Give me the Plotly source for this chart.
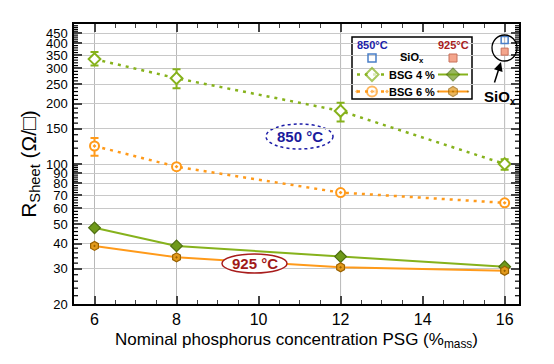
import numpy as np
import plotly.graph_objects as go

# ---------------- data ----------------
psg = [6, 8, 12, 16]

bsg4_850 = [334, 268, 184, 100]
bsg4_850_up = [28, 29, 18, 5.5]
bsg4_850_dn = [24, 29, 21, 6.3]

bsg6_850 = [123, 97, 72, 64]
bsg6_850_up = [12, 3, 2, 1.5]
bsg6_850_dn = [13, 3, 2, 1.5]

bsg4_925 = [48, 39, 34.5, 30.7]
bsg6_925 = [39, 34.2, 30.5, 29.3]

siox_x = [16]
siox_850 = [416]
siox_925 = [364]

y_ticks = [20, 30, 40, 50, 60, 70, 80, 90, 100, 150, 200, 250, 300, 350, 400, 450]
y_minor = [v for v in range(22, 100, 2) if v not in y_ticks] + \
          [v for v in range(110, 500, 10) if v not in y_ticks]

# ---------------- style ----------------
GREEN = "#86b21c"
GREEN_F = "#6f9a1a"
GREEN_D = "#4d6e10"
ORANGE = "#ff9a1a"
ORANGE_F = "#e39a1c"
ORANGE_D = "#9a6200"
BLUE = "#1c1ca8"
RED = "#a81c1c"
FONT = "Liberation Sans, Arial, sans-serif"
YR = [np.log10(20), np.log10(500)]

fig = go.Figure()

# 850 °C series
fig.add_trace(go.Scatter(
    x=psg, y=bsg4_850, mode="lines+markers",
    line=dict(color=GREEN, width=2.5, dash="3px,5px"),
    marker=dict(symbol="diamond", size=9, color="white", line=dict(color=GREEN, width=2)),
    error_y=dict(type="data", array=bsg4_850_up, arrayminus=bsg4_850_dn,
                 color=GREEN, thickness=2, width=4),
    showlegend=False))
fig.add_trace(go.Scatter(
    x=psg, y=bsg6_850, mode="lines+markers",
    line=dict(color=ORANGE, width=2.5, dash="3px,5px"),
    marker=dict(symbol="circle-dot", size=9, color="white", line=dict(color=ORANGE, width=2)),
    error_y=dict(type="data", array=bsg6_850_up, arrayminus=bsg6_850_dn,
                 color=ORANGE, thickness=2, width=4),
    showlegend=False))

# 925 °C series
fig.add_trace(go.Scatter(
    x=psg, y=bsg4_925, mode="lines+markers",
    line=dict(color=GREEN, width=2),
    marker=dict(symbol="diamond", size=9, color=GREEN_F, line=dict(color=GREEN_D, width=1.2)),
    showlegend=False))
fig.add_trace(go.Scatter(
    x=psg, y=bsg6_925, mode="lines+markers",
    line=dict(color=ORANGE, width=2),
    marker=dict(symbol="hexagon-dot", size=9, color=ORANGE_F, line=dict(color=ORANGE_D, width=1.2)),
    showlegend=False))

# SiOx points
fig.add_trace(go.Scatter(
    x=siox_x, y=siox_850, mode="markers",
    marker=dict(symbol="square-open", size=7, color="#4a7fc8", line=dict(width=1.5)),
    showlegend=False))
fig.add_trace(go.Scatter(
    x=siox_x, y=siox_925, mode="markers",
    marker=dict(symbol="square", size=7, color="#f4a58c", line=dict(color="#c8705a", width=1)),
    showlegend=False))

# ---------------- custom legend (pixel overlay axes) ----------------
L, R, T, B = 74, 519, 24, 304
cx850, cx_txt, cx925 = 372, 412, 453
r_head, r_siox, r_b4, r_b6 = 45, 58, 74.5, 91.5


def px(v):
    return (v - L) / (R - L)


def py(v):
    return (B - v) / (B - T)


def leg(xs, ys, **kw):
    fig.add_trace(go.Scatter(x=xs, y=ys, xaxis="x2", yaxis="y2",
                             showlegend=False, hoverinfo="skip", **kw))


leg([cx850], [r_siox], mode="markers",
    marker=dict(symbol="square-open", size=8, color="#4a7fc8", line=dict(width=1.5)))
leg([cx925], [r_siox], mode="markers",
    marker=dict(symbol="square", size=8, color="#f4a58c", line=dict(color="#c8705a", width=1)))
leg([cx850 - 15, cx850, cx850 + 15], [r_b4] * 3, mode="lines+markers",
    line=dict(color=GREEN, width=2.5, dash="3px,5px"),
    marker=dict(symbol="diamond", size=[0, 10, 0], color="white", line=dict(color=GREEN, width=2)))
leg([cx925 - 15, cx925, cx925 + 15], [r_b4] * 3, mode="lines+markers",
    line=dict(color=GREEN, width=2),
    marker=dict(symbol="diamond", size=[0, 10, 0], color=GREEN_F, line=dict(color=GREEN_D, width=1.2)))
leg([cx850 - 15, cx850, cx850 + 15], [r_b6] * 3, mode="lines+markers",
    line=dict(color=ORANGE, width=2.5, dash="3px,5px"),
    marker=dict(symbol="circle-dot", size=[0, 10, 0], color="white", line=dict(color=ORANGE, width=2)))
leg([cx925 - 15, cx925, cx925 + 15], [r_b6] * 3, mode="lines+markers",
    line=dict(color=ORANGE, width=2),
    marker=dict(symbol="hexagon-dot", size=[0, 10, 0], color=ORANGE_F, line=dict(color=ORANGE_D, width=1.2)))

shapes = []
# vertical grid lines at measured concentrations
for xv in psg:
    shapes.append(dict(type="line", xref="x", yref="paper", x0=xv, x1=xv, y0=0, y1=1,
                       line=dict(color="#b8b8b8", width=1), layer="below"))

# y minor ticks (left and right, inside)
tl = 4 / (R - L)
for v in y_minor:
    for a, b in ((0, tl), (1 - tl, 1)):
        shapes.append(dict(type="line", xref="paper", yref="y", x0=a, x1=b, y0=v, y1=v,
                           line=dict(color="black", width=1.2), layer="above"))


def ps(kind, x0, x1, y0, y1, layer, **kw):
    shapes.append(dict(type=kind, xref="paper", yref="paper",
                       x0=px(x0), x1=px(x1), y0=py(y1), y1=py(y0), layer=layer, **kw))


# legend box
ps("rect", 352, 472, 37, 99, "between", fillcolor="white", line=dict(color="black", width=1.5))
# 850 ellipse
ps("circle", 266, 333, 124, 149, "between", fillcolor="white",
   line=dict(color=BLUE, width=1.5, dash="dot"))
# 925 ellipse
ps("circle", 222, 287, 254, 273, "above", fillcolor="white", line=dict(color=RED, width=1.5))
# SiOx circle
ps("circle", 492, 517, 35, 61, "above", line=dict(color="black", width=1.3))

ann = []


def txt(x, y, t, color="black", size=12, bold=True):
    ann.append(dict(x=x, y=y, xref="x2", yref="y2", text=f"<b>{t}</b>" if bold else t,
                    showarrow=False, font=dict(family=FONT, size=size, color=color)))


txt(cx850, r_head, "850°C", BLUE, 11)
txt(cx925, r_head, "925°C", RED, 11)
txt(cx_txt, r_siox, "SiO<sub>x</sub>", "black", 11)
txt(cx_txt, r_b4, "BSG 4 %", "black", 11)
txt(cx_txt, r_b6, "BSG 6 %", "black", 11)
txt(299.5, 136.5, "850 °C", "#1a1a9c", 15)
txt(254.5, 263.5, "925 °C", "#a01818", 15)
txt(500, 97, "SiO<sub>x</sub>", "black", 15)
ann.append(dict(x=501, y=62, ax=494, ay=84, xref="x2", yref="y2", axref="x2", ayref="y2",
                text="", showarrow=True, arrowhead=2, arrowsize=1.2, arrowwidth=1.5,
                arrowcolor="black"))

fig.update_layout(
    width=554, height=364,
    margin=dict(l=L, r=554 - R, t=T, b=364 - B),
    paper_bgcolor="white", plot_bgcolor="white",
    font=dict(family=FONT, color="black"),
    shapes=shapes, annotations=ann,
    xaxis=dict(range=[5.5, 16.35], tick0=0, dtick=2, ticks="inside", ticklen=8, tickwidth=2,
               showgrid=False, zeroline=False, showline=True, linecolor="black", linewidth=1.5,
               mirror="allticks", tickfont=dict(size=16), automargin=False,
               minor=dict(dtick=0.5, ticks="inside", ticklen=4, tickwidth=1.2, showgrid=False),
               title=dict(text="Nominal phosphorus concentration PSG (%<sub>mass</sub>)",
                          font=dict(size=17), standoff=6)),
    yaxis=dict(type="log", range=YR,
               tickmode="array", tickvals=y_ticks, ticktext=[str(v) for v in y_ticks],
               ticks="inside", ticklen=8, tickwidth=2,
               showgrid=True, gridcolor="#c8c8c8", gridwidth=1,
               zeroline=False, showline=True, linecolor="black", linewidth=1.5,
               mirror="allticks", tickfont=dict(size=13), ticklabelstandoff=2, automargin=False,
               title=dict(text="R<sub>Sheet</sub> (Ω/□)", font=dict(size=21), standoff=4)),
    xaxis2=dict(overlaying="x", range=[L, R], visible=False, anchor="y2"),
    yaxis2=dict(overlaying="y", range=[B, T], visible=False, anchor="x2"),
)

fig.write_html("out.html", config={"displayModeBar": False},
               post_script="document.body.style.margin='0';document.body.style.padding='0';")
